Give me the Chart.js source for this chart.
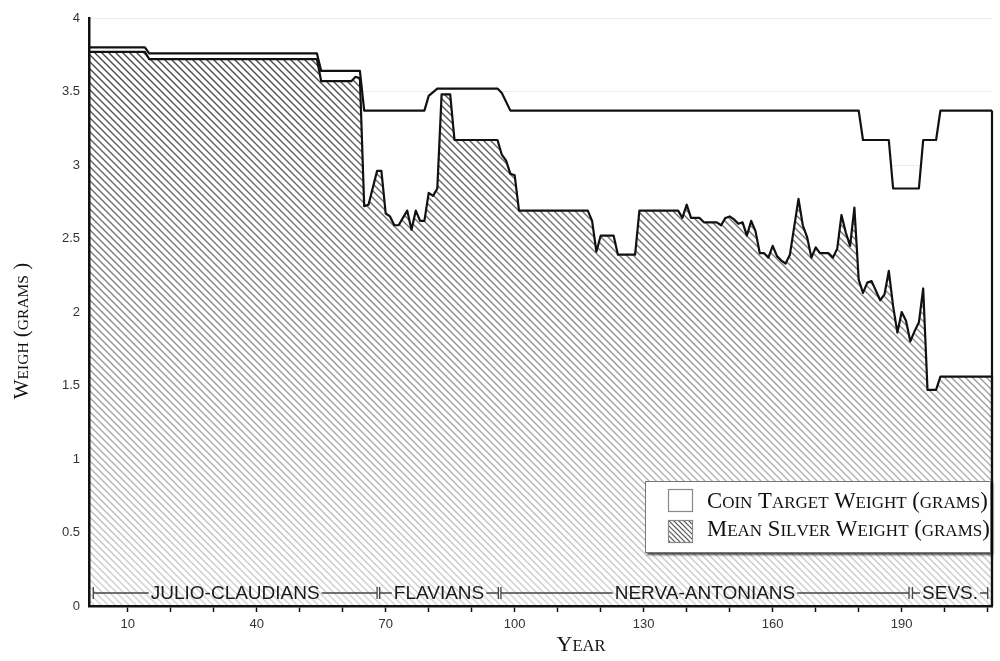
<!DOCTYPE html>
<html><head><meta charset="utf-8">
<script src="https://cdn.jsdelivr.net/npm/chart.js@4"></script>
<style>html,body{margin:0;padding:0;background:#fff}#wrap{width:1000px;height:661px}</style>
</head><body><div id="wrap"><canvas id="c" width="1000" height="661"></canvas></div>
<script>
// ---------- DATA ----------
const targetYears = [1, 14, 15, 54, 55, 64, 65, 79, 80, 82, 96, 97, 99, 180, 181, 187, 188, 194, 195, 198, 199, 211];
const targetWeights = [3.80, 3.80, 3.76, 3.76, 3.64, 3.64, 3.37, 3.37, 3.47, 3.52, 3.52, 3.49, 3.37, 3.37, 3.17, 3.17, 2.84, 2.84, 3.17, 3.17, 3.37, 3.37];

const silverYears = [
  1, 14, 15, 54, 55, 62, 63, 64, 65, 66,
  68, 69, 70, 71, 72, 73, 75, 76, 77, 78,
  79, 80, 81, 82, 83, 85, 86, 96, 97, 98,
  99, 100, 101, 117, 118, 119, 120, 123, 124, 128,
  129, 138, 139, 140, 141, 143, 144, 147, 148, 149,
  150, 151, 152, 153, 154, 155, 156, 157, 158, 159,
  160, 161, 162, 163, 164, 166, 167, 168, 169, 170,
  171, 173, 174, 175, 176, 177, 178, 179, 180, 181,
  182, 183, 185, 186, 187, 188, 189, 190, 191, 192,
  193, 194, 195, 196, 198, 199, 211];
const silverWeights = [
  3.77, 3.77, 3.72, 3.72, 3.57, 3.57, 3.60, 3.59, 2.72, 2.73,
  2.96, 2.96, 2.67, 2.65, 2.59, 2.59, 2.69, 2.56, 2.69, 2.62,
  2.62, 2.81, 2.79, 2.84, 3.48, 3.48, 3.17, 3.17, 3.07, 3.03,
  2.94, 2.93, 2.69, 2.69, 2.62, 2.41, 2.52, 2.52, 2.39, 2.39,
  2.69, 2.69, 2.64, 2.73, 2.64, 2.64, 2.61, 2.61, 2.59, 2.64,
  2.65, 2.63, 2.60, 2.61, 2.52, 2.62, 2.55, 2.40, 2.40, 2.37,
  2.45, 2.38, 2.35, 2.33, 2.39, 2.77, 2.59, 2.51, 2.37, 2.44,
  2.40, 2.40, 2.37, 2.43, 2.66, 2.54, 2.45, 2.71, 2.22, 2.13,
  2.20, 2.21, 2.08, 2.12, 2.28, 2.04, 1.86, 2.00, 1.94, 1.80,
  1.87, 1.93, 2.16, 1.47, 1.47, 1.56, 1.56];

const xLabelYears = [10, 40, 70, 100, 130, 160, 190];
const dynastyNames = ['JULIO-CLAUDIANS', 'FLAVIANS', 'NERVA-ANTONIANS', 'SEVS.'];
const dynastyStart = [2, 68.6, 96.8, 192.5];
const dynastyEnd = [68, 96.2, 191.7, 210];
const seriesNames = ['Coin Target Weight (grams)', 'Mean Silver Weight (grams)'];
const xTitle = 'Year';
const yTitle = 'Weigh (grams )';

// ---------- STYLE HELPERS ----------
const SERIF = '"Liberation Serif", "Times New Roman", serif';
const SANS = '"Liberation Sans", Arial, sans-serif';

function makeHatch() {
  const cv = document.createElement('canvas');
  cv.width = 1000; cv.height = 661;
  const g = cv.getContext('2d');
  g.fillStyle = '#fff';
  g.fillRect(0, 0, 1000, 661);
  const grad = g.createLinearGradient(0, 40, 0, 606);
  grad.addColorStop(0, '#444');
  grad.addColorStop(0.5, '#8e8e8e');
  grad.addColorStop(1, '#d4d4d4');
  g.strokeStyle = grad;
  g.lineWidth = 1.4;
  for (let k = -700; k < 1700; k += 7) {
    g.beginPath();
    g.moveTo(k, 0);
    g.lineTo(k + 661, 661);
    g.stroke();
  }
  return g.createPattern(cv, 'no-repeat');
}

function scWidth(ctx, text, big, small, fam) {
  let w = 0;
  for (const ch of text) {
    const isLow = ch !== ch.toUpperCase();
    ctx.font = (isLow ? small : big) + 'px ' + fam;
    w += ctx.measureText(isLow ? ch.toUpperCase() : ch).width;
  }
  return w;
}
function drawSC(ctx, text, x, y, big, small, fam, align) {
  const w = scWidth(ctx, text, big, small, fam);
  let cx = align === 'center' ? x - w / 2 : (align === 'right' ? x - w : x);
  ctx.textAlign = 'left';
  ctx.textBaseline = 'alphabetic';
  for (const ch of text) {
    const isLow = ch !== ch.toUpperCase();
    const c = isLow ? ch.toUpperCase() : ch;
    ctx.font = (isLow ? small : big) + 'px ' + fam;
    ctx.fillText(c, cx, y);
    cx += ctx.measureText(c).width;
  }
}

const decorPlugin = {
  id: 'decor',
  afterDatasetsDraw(chart) {
    const ctx = chart.ctx;
    const ys = chart.scales.y;
    ctx.save();
    chart.data.datasets.forEach((ds, i) => {
      const meta = chart.getDatasetMeta(i);
      const last = meta.data[meta.data.length - 1];
      ctx.strokeStyle = '#111';
      ctx.lineWidth = 2.2;
      ctx.beginPath();
      ctx.moveTo(last.x, last.y);
      ctx.lineTo(last.x, ys.getPixelForValue(0));
      ctx.stroke();
    });
    ctx.restore();
  },
  afterDraw(chart) {
    const ctx = chart.ctx;
    const xs = chart.scales.x;
    const ca = chart.chartArea;
    ctx.save();
    // dynasty bands
    const dy = ca.bottom - 13;
    ctx.font = '19px ' + SANS;
    dynastyNames.forEach((name, i) => {
      const x0 = xs.getPixelForValue(dynastyStart[i]);
      const x1 = xs.getPixelForValue(dynastyEnd[i]);
      const tw = ctx.measureText(name).width;
      const mid = (x0 + x1) / 2;
      ctx.strokeStyle = '#444';
      ctx.lineWidth = 1.3;
      ctx.beginPath();
      ctx.moveTo(x0, dy - 6); ctx.lineTo(x0, dy + 6);
      ctx.moveTo(x1, dy - 6); ctx.lineTo(x1, dy + 6);
      ctx.moveTo(x0, dy); ctx.lineTo(mid - tw / 2 - 2, dy);
      ctx.moveTo(mid + tw / 2 + 2, dy); ctx.lineTo(x1, dy);
      ctx.stroke();
      ctx.fillStyle = '#1a1a1a';
      ctx.textAlign = 'center';
      ctx.textBaseline = 'middle';
      ctx.font = '19px ' + SANS;
      ctx.fillText(name, mid, dy + 1);
    });
    // axis titles
    ctx.fillStyle = '#111';
    drawSC(ctx, xTitle, 581, 651, 22, 16.5, SERIF, 'center');
    ctx.save();
    ctx.translate(28, 331);
    ctx.rotate(-Math.PI / 2);
    drawSC(ctx, yTitle, 0, 0, 21, 15.5, SERIF, 'center');
    ctx.restore();
    // legend box
    const lx = 645, ly = 481, lw = 346, lh = 72;
    ctx.save();
    ctx.shadowColor = 'rgba(0,0,0,0.7)';
    ctx.shadowOffsetX = 2; ctx.shadowOffsetY = 2; ctx.shadowBlur = 2;
    ctx.fillStyle = '#fff';
    ctx.fillRect(lx, ly, lw, lh);
    ctx.restore();
    ctx.strokeStyle = '#777';
    ctx.lineWidth = 1;
    ctx.strokeRect(lx + 0.5, ly + 0.5, lw - 1, lh - 1);
    // swatches
    const sx = 668, sw = 25, sh = 23;
    const sy = [489, 520];
    ctx.fillStyle = '#fff';
    ctx.fillRect(sx, sy[0], sw, sh);
    ctx.strokeStyle = '#888';
    ctx.lineWidth = 1.2;
    ctx.strokeRect(sx + 0.5, sy[0] + 0.5, sw - 1, sh - 1);
    ctx.save();
    ctx.beginPath(); ctx.rect(sx, sy[1], sw, sh); ctx.clip();
    ctx.fillStyle = '#fff'; ctx.fillRect(sx, sy[1], sw, sh);
    ctx.strokeStyle = '#555'; ctx.lineWidth = 1.2;
    for (let k = -30; k < 40; k += 5) {
      ctx.beginPath(); ctx.moveTo(sx + k, sy[1]); ctx.lineTo(sx + k + 30, sy[1] + 30); ctx.stroke();
    }
    ctx.restore();
    ctx.strokeStyle = '#888';
    ctx.strokeRect(sx + 0.5, sy[1] + 0.5, sw - 1, sh - 1);
    ctx.fillStyle = '#111';
    drawSC(ctx, seriesNames[0], 707, 508, 22.7, 17, SERIF, 'left');
    drawSC(ctx, seriesNames[1], 707, 536, 22.7, 17, SERIF, 'left');
    ctx.restore();
  }
};

const hatch = makeHatch();

new Chart(document.getElementById('c'), {
  type: 'line',
  data: {
    datasets: [
      {
        label: seriesNames[0],
        data: targetYears.map((x, i) => ({ x, y: targetWeights[i] })),
        borderColor: '#111', borderWidth: 2.2, backgroundColor: '#fff',
        fill: 'origin', pointRadius: 0, tension: 0, borderJoinStyle: 'round', order: 2
      },
      {
        label: seriesNames[1],
        data: silverYears.map((x, i) => ({ x, y: silverWeights[i] })),
        borderColor: '#111', borderWidth: 2.2, backgroundColor: hatch,
        fill: 'origin', pointRadius: 0, tension: 0, borderJoinStyle: 'round', order: 1
      }
    ]
  },
  options: {
    responsive: false,
    animation: false,
    devicePixelRatio: 1,
    layout: { padding: { top: 18, right: 8, left: 0, bottom: 0 } },
    plugins: { legend: { display: false }, tooltip: { enabled: false } },
    scales: {
      x: {
        type: 'linear', min: 1, max: 211,
        afterFit: s => { s.height = 55; },
        afterBuildTicks: s => {
          const t = [];
          for (let v = 10; v <= 210; v += 10) t.push({ value: v });
          s.ticks = t;
        },
        grid: { drawOnChartArea: false, drawTicks: true, tickLength: 6, tickColor: '#111', tickWidth: 1.5 },
        border: { display: true, color: '#111', width: 2.5, z: 1 },
        ticks: {
          autoSkip: false, maxRotation: 0, padding: 5, color: '#333',
          font: { family: SANS, size: 13 },
          callback: v => xLabelYears.includes(v) ? String(v) : ''
        }
      },
      y: {
        min: 0, max: 4,
        afterFit: s => { s.width = 89; },
        grid: { color: '#ececec', lineWidth: 1, drawTicks: false },
        border: { display: true, color: '#111', width: 2.5, z: 1 },
        ticks: {
          stepSize: 0.5, padding: 9, color: '#333',
          font: { family: SANS, size: 13 },
          callback: v => String(v)
        }
      }
    }
  },
  plugins: [decorPlugin]
});
</script>
</body></html>
